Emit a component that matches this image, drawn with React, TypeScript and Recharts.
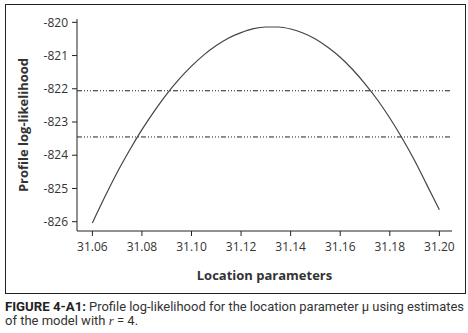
import { LineChart, Line, XAxis, YAxis, ReferenceLine } from 'recharts'

const locations = [
  31.06, 31.065, 31.07, 31.075, 31.08, 31.085, 31.09, 31.095, 31.1, 31.105,
  31.11, 31.115, 31.12, 31.125, 31.13, 31.135, 31.14, 31.145, 31.15, 31.155,
  31.16, 31.165, 31.17, 31.175, 31.18, 31.185, 31.19, 31.195, 31.2,
]
const profileLogLik = [
  -826.04, -825.26, -824.52, -823.85, -823.23, -822.67, -822.16, -821.71, -821.32, -820.98,
  -820.7, -820.47, -820.31, -820.19, -820.14, -820.14, -820.2, -820.32, -820.5, -820.75,
  -821.05, -821.42, -821.85, -822.33, -822.88, -823.49, -824.16, -824.9, -825.64,
]
const cutoffs = [-822.06, -823.45]
const xTicks = [31.06, 31.08, 31.1, 31.12, 31.14, 31.16, 31.18, 31.2]
const yTicks = [-826, -825, -824, -823, -822, -821, -820]

const data = locations.map((mu, i) => ({ mu, ll: profileLogLik[i] }))

const tickStyle = { fontSize: 12, fill: '#333', fontFamily: 'Open Sans' }
const xDomain = [31.0538, 31.2051]
const yDomain = [-826.28, -819.9]

function YTitle({ viewBox }: any) {
  const cx = viewBox.x + 23
  const cy = viewBox.y + viewBox.height / 2
  return (
    <text
      x={cx}
      y={cy}
      transform={`rotate(-90 ${cx} ${cy})`}
      textAnchor="middle"
      dominantBaseline="central"
      fontFamily="Open Sans"
      fontWeight="bold"
      fontSize={13}
      fill="#333"
    >
      Profile log-likelihood
    </text>
  )
}

const capFont = { fontFamily: 'Roboto', fontSize: 13, fill: '#333' }

export default function App() {
  return (
    <div style={{ position: 'absolute', left: 0, top: 0, width: 468, height: 333, background: '#fff' }}>
      <div
        style={{
          position: 'absolute',
          left: 5,
          top: 4,
          width: 459,
          height: 288,
          border: '1.5px solid #222',
        }}
      />
      <div style={{ position: 'absolute', left: 0, top: 0 }}>
        <LineChart width={468} height={300} data={data} margin={{ top: 19, right: 16, bottom: 0, left: 0 }}>
          <XAxis
            dataKey="mu"
            type="number"
            domain={xDomain}
            allowDataOverflow
            ticks={xTicks}
            tickFormatter={(v) => (v as number).toFixed(2)}
            tick={tickStyle}
            tickSize={5}
            tickMargin={6}
            height={69}
            stroke="#222"
            label={{
              value: 'Location parameters',
              position: 'insideBottom',
              offset: 20,
              fontSize: 13,
              fontWeight: 'bold',
              fill: '#333',
              fontFamily: 'Open Sans',
            }}
          />
          <XAxis
            xAxisId="top"
            orientation="top"
            dataKey="mu"
            type="number"
            domain={xDomain}
            allowDataOverflow
            tick={false}
            tickLine={false}
            height={0}
            stroke="#8a8a8a"
            strokeWidth={1.5}
          />
          <YAxis
            type="number"
            domain={yDomain}
            allowDataOverflow
            ticks={yTicks}
            tick={tickStyle}
            tickSize={5}
            tickMargin={4}
            width={77}
            stroke="#222"
            label={YTitle}
          />
          <YAxis
            yAxisId="right"
            orientation="right"
            type="number"
            domain={yDomain}
            allowDataOverflow
            tick={false}
            tickLine={false}
            width={0}
            stroke="#aaa"
            strokeWidth={2}
          />
          {cutoffs.map((c) => (
            <ReferenceLine key={c} y={c} stroke="#222" strokeWidth={1} strokeDasharray="5 2 1 2 1 2 1 2" />
          ))}
          <Line
            dataKey="ll"
            type="monotone"
            stroke="#444"
            strokeWidth={1.2}
            dot={false}
            activeDot={false}
            isAnimationActive={false}
          />
        </LineChart>
      </div>
      <svg width={468} height={38} style={{ position: 'absolute', left: 0, top: 295 }}>
        <text x={5} y={16} {...capFont} fontWeight="bold" fill="#222" textLength={81} lengthAdjust="spacingAndGlyphs">
          FIGURE 4-A1:
        </text>
        <text x={89} y={16} {...capFont} textLength={375} lengthAdjust="spacingAndGlyphs">
          Profile log-likelihood for the location parameter μ using estimates
        </text>
        <text x={5} y={30} {...capFont}>
          of the model with <tspan fontStyle="italic" fontFamily="Liberation Serif">r</tspan> = 4.
        </text>
      </svg>
    </div>
  )
}
